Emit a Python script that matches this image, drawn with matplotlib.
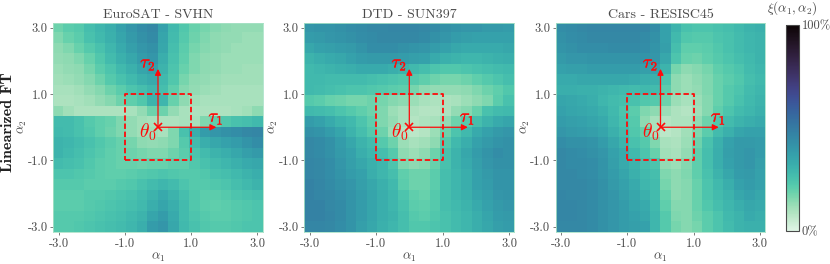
import numpy as np
import seaborn as sns
from matplotlib import pyplot as plt
from matplotlib import patheffects as pe

plt.rcParams['font.family'] = ['cmr10', 'DejaVu Serif']
plt.rcParams['mathtext.fontset'] = 'cm'
plt.rcParams['axes.unicode_minus'] = False
plt.rcParams['axes.formatter.use_mathtext'] = True

titles = ['EuroSAT - SVHN', 'DTD - SUN397', 'Cars - RESISC45']
tick_vals = [-3, -1, 1, 3]
tick_labels = ['-3.0', '-1.0', '1.0', '3.0']
alphas = np.linspace(-3, 3, 20)

# rows go from alpha2 = 3 (top) down to alpha2 = -3
euro_svhn = [
    [18,21,22,26,29,32,36,40,43,45,36,28,23,19,17,15,14,13,13,13],
    [16,19,21,25,28,31,35,39,42,44,35,27,22,18,16,14,13,13,12,12],
    [14,16,19,22,25,29,33,37,40,42,34,26,21,17,15,14,13,12,12,12],
    [13,14,16,19,23,27,31,34,38,40,32,25,20,16,14,13,12,12,12,12],
    [12,13,14,17,21,24,28,31,35,37,30,24,19,16,14,13,12,12,11,11],
    [11,12,13,15,18,22,25,28,31,33,28,23,17,14,13,12,11,11,11,11],
    [10,10,11,13,15,18,21,24,26,29,26,20,15,13,12,11,10,10,10,10],
    [9,9,10,11,13,15,18,20,23,30,29,19,14,11,10,10,10,10,10,10],
    [14,11,9,9,9,9,9,10,13,18,18,13,10,9,9,9,9,10,11,14],
    [27,27,25,22,20,19,16,13,11,10,9,9,10,10,16,20,23,25,26,28],
    [28,27,25,23,20,18,16,13,11,11,10,16,25,32,38,40,42,43,45,46],
    [30,29,27,25,23,21,19,17,14,13,14,16,22,27,32,34,36,38,41,43],
    [30,28,26,24,22,20,19,18,17,16,16,18,21,24,27,30,32,34,37,39],
    [27,26,25,23,21,20,19,19,18,19,19,20,20,23,25,27,29,31,33,34],
    [24,24,23,22,21,20,20,21,22,23,24,23,22,22,23,25,26,28,30,32],
    [22,22,22,21,21,21,22,23,25,27,29,27,24,22,22,23,24,26,28,30],
    [21,21,21,22,22,23,24,25,27,30,33,30,26,23,21,21,22,24,25,26],
    [21,21,21,22,23,24,25,26,28,32,35,32,27,23,21,20,21,22,23,24],
    [22,22,22,23,24,25,26,28,30,35,38,33,27,24,22,21,21,22,23,24],
    [22,22,23,24,25,26,27,29,32,38,40,34,28,25,23,22,22,23,24,24],
]

dtd_sun = [
    [40,41,41,42,43,44,45,45,46,46,46,45,44,42,41,40,40,39,39,38],
    [38,39,40,41,42,43,44,45,45,45,45,44,42,40,38,37,36,36,36,36],
    [34,36,37,38,39,41,43,43,43,42,41,40,38,36,34,33,33,33,33,34],
    [30,32,33,34,36,38,39,39,39,38,37,36,33,31,30,29,29,30,31,32],
    [28,29,30,31,32,33,33,33,32,30,28,26,24,23,23,24,25,26,27,28],
    [28,28,27,27,27,27,26,25,24,23,22,20,18,17,17,18,20,22,24,26],
    [28,27,26,25,24,24,23,22,21,20,17,14,13,13,13,14,16,18,20,23],
    [22,21,19,18,17,17,18,17,15,14,12,10,9,9,10,12,14,16,21,25],
    [28,27,26,24,22,20,18,16,12,10,9,8,8,9,13,15,19,25,27,28],
    [38,36,33,30,28,24,20,16,13,10,8,9,10,13,18,22,26,30,33,35],
    [42,41,38,35,30,26,22,18,12,8,7,8,12,18,24,28,33,36,39,40],
    [45,44,42,38,34,30,27,22,18,12,10,11,14,22,28,32,36,39,41,42],
    [45,44,42,39,36,32,29,26,22,14,12,14,18,25,30,34,38,41,43,42],
    [46,45,43,40,37,34,31,29,24,16,14,15,19,25,30,33,37,40,42,42],
    [46,45,43,41,38,36,32,29,26,20,18,18,21,26,29,32,36,39,41,41],
    [47,46,44,42,40,37,34,31,28,21,18,18,21,26,29,32,36,38,41,41],
    [47,46,45,43,41,38,35,32,29,24,20,19,22,26,29,31,35,37,40,41],
    [47,47,45,44,41,38,35,32,29,25,21,20,22,26,28,30,33,36,39,40],
    [47,47,46,44,41,38,35,32,30,26,22,21,23,25,27,29,32,35,38,39],
    [46,46,45,43,41,37,34,31,29,26,23,23,24,25,27,29,32,34,37,38],
]

cars_resisc = [
    [43,44,45,46,46,46,46,46,46,43,36,30,25,24,24,25,26,28,30,31],
    [42,43,44,45,45,45,45,45,44,42,36,28,23,22,22,24,25,27,29,30],
    [41,42,43,43,43,44,44,44,43,41,37,26,20,20,21,23,25,27,29,30],
    [39,40,40,41,41,41,41,41,41,40,34,24,19,18,20,22,24,26,28,30],
    [36,37,37,38,38,38,38,38,37,36,30,17,14,15,17,20,22,24,27,29],
    [33,33,34,34,34,34,34,33,32,31,24,14,12,14,16,19,21,23,26,28],
    [32,32,31,31,30,29,28,27,28,27,21,14,12,13,16,19,22,24,27,29],
    [35,34,33,32,29,27,26,25,23,22,18,12,10,12,15,19,22,25,28,30],
    [36,35,34,33,31,28,24,21,16,14,12,9,8,11,15,20,24,27,29,31],
    [38,37,36,35,33,29,25,22,14,10,8,9,9,13,18,23,27,30,32,33],
    [40,39,38,37,35,31,27,23,19,10,7,8,11,16,21,27,31,35,36,36],
    [43,42,42,41,38,34,30,25,22,16,10,9,12,18,25,31,36,39,39,38],
    [45,44,43,42,40,36,33,28,24,19,11,10,13,20,26,32,37,39,40,38],
    [45,44,44,43,41,37,33,30,26,24,13,12,15,20,26,32,36,39,40,37],
    [45,45,44,43,41,38,35,31,28,26,16,14,16,20,25,30,34,38,39,36],
    [45,45,45,44,42,39,36,33,29,27,17,14,15,19,24,28,32,36,38,36],
    [46,45,45,44,42,40,37,34,31,27,19,14,15,19,24,27,30,34,36,34],
    [46,46,45,44,42,40,38,35,33,28,20,15,15,19,23,26,29,32,34,33],
    [46,46,45,44,42,40,38,36,34,29,22,16,15,18,21,24,28,30,33,32],
    [45,45,45,44,42,40,38,37,36,29,22,17,15,17,21,24,27,30,31,31],
]

panels = [euro_svhn, dtd_sun, cars_resisc]
W, H = 830.0, 264.0
boxes = [(53.3, 262.7), (304.3, 514.3), (556.0, 765.0)]
top, bottom = 22.5, 232.0
grey = '#4a4a4a'
red = '#ff0a0a'
bold_stroke = [pe.withStroke(linewidth=0.25, foreground=red)]

cmap = sns.color_palette('mako_r', as_cmap=True)
fig = plt.figure(figsize=(8.3, 2.64), dpi=100)

for i, (x0, x1) in enumerate(boxes):
    ax = fig.add_axes([x0/W, 1 - bottom/H, (x1 - x0)/W, (bottom - top)/H])
    step = alphas[1] - alphas[0]
    im = ax.imshow(panels[i], cmap=cmap, vmin=0, vmax=100, aspect='auto',
                   extent=[alphas[0]-step/2, alphas[-1]+step/2, alphas[0]-step/2, alphas[-1]+step/2])
    ax.set_xticks(tick_vals)
    ax.set_xticklabels(tick_labels)
    ax.set_yticks(tick_vals)
    ax.set_yticklabels(tick_labels)
    ax.tick_params(labelsize=9, length=2, width=0.5, pad=2, colors=grey)
    ax.set_xlabel(r'$\alpha_1$', fontsize=9.5, color=grey, labelpad=1)
    ax.set_ylabel(r'$\alpha_2$', fontsize=9.5, color=grey, labelpad=-1)
    ax.set_title(titles[i], fontsize=10, color=grey, pad=3)
    for s in ax.spines.values():
        s.set_color('#a8e2c6')
        s.set_linewidth(0.6)

    # search box around the solution
    ax.plot([-1, 1, 1, -1, -1], [-1, -1, 1, 1, -1], color=red, ls='--', lw=1.3, dashes=(3, 1.5))
    ax.annotate('', xy=(1.76, 0), xytext=(0, 0),
                arrowprops=dict(arrowstyle='-|>', color=red, lw=0.9, mutation_scale=9, shrinkA=0, shrinkB=0))
    ax.annotate('', xy=(0, 1.76), xytext=(0, 0),
                arrowprops=dict(arrowstyle='-|>', color=red, lw=0.9, mutation_scale=9, shrinkA=0, shrinkB=0))
    ax.plot([0], [0], marker='x', color=red, ms=6, mew=1.2)
    ax.text(1.75, 0.25, r'$\tau_1$', color=red, fontsize=13, ha='center', va='center', path_effects=bold_stroke)
    ax.text(-0.3, 1.88, r'$\tau_2$', color=red, fontsize=13, ha='center', va='center', path_effects=bold_stroke)
    ax.text(-0.3, -0.15, r'$\theta_0$', color=red, fontsize=14, ha='center', va='center')

fig.text(8/W, 1 - 122/H, 'Linearized FT', rotation=90, fontsize=11.5, family='cmb10',
         color='#222222', ha='center', va='center')

cax = fig.add_axes([786/W, 1 - 230.5/H, 13/W, 206/H])
cb = fig.colorbar(im, cax=cax)
cb.set_ticks([0, 100])
cb.set_ticklabels(['0%', '100%'])
cb.ax.tick_params(labelsize=9, length=0, pad=2, colors=grey)
cb.outline.set_edgecolor(grey)
cb.outline.set_linewidth(0.8)
fig.text(792/W, 1 - 8/H, r'$\xi(\alpha_1,\alpha_2)$', fontsize=9.5, color=grey, ha='center', va='center')

fig.savefig('out.png', dpi=100)
